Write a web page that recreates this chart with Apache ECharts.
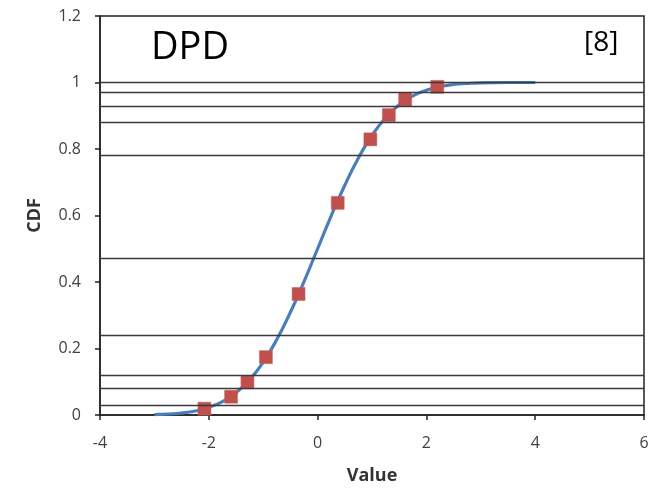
<!DOCTYPE html>
<html><head><meta charset="utf-8">
<script src="https://cdn.jsdelivr.net/npm/echarts@6/dist/echarts.min.js"></script>
<style>html,body{margin:0;padding:0;background:#fff}#c{width:650px;height:489px}</style>
</head><body><div id="c"></div>
<script>
// Fitted CDF curve
const curveX = [-3, -2.75, -2.5, -2.25, -2, -1.75, -1.5, -1.25, -1, -0.75, -0.5, -0.25, 0, 0.25, 0.5, 0.75, 1, 1.25, 1.5, 1.75, 2, 2.25, 2.5, 2.75, 3, 3.5, 4];
const curveY = [0.001, 0.003, 0.006, 0.012, 0.023, 0.04, 0.067, 0.106, 0.159, 0.227, 0.309, 0.401, 0.5, 0.599, 0.691, 0.773, 0.841, 0.894, 0.933, 0.96, 0.977, 0.988, 0.994, 0.997, 0.999, 1.0, 1.0];
// Sample points (red squares)
const pointX = [-2.08, -1.59, -1.29, -0.95, -0.35, 0.37, 0.97, 1.31, 1.61, 2.2];
const pointY = [0.019, 0.055, 0.098, 0.174, 0.364, 0.638, 0.829, 0.902, 0.949, 0.987];
// Horizontal reference levels
const levels = [0.998, 0.968, 0.930, 0.879, 0.780, 0.469, 0.241, 0.119, 0.078, 0.033];
const xTicks = [-4, -2, 0, 2, 4, 6];
const yTicks = [0, 0.2, 0.4, 0.6, 0.8, 1, 1.2];
const titleText = 'DPD';
const refText = '[8]';

const chart = echarts.init(document.getElementById('c'), null, {renderer: 'canvas'});
const font = 'Open Sans';
chart.setOption({
  animation: false,
  backgroundColor: '#fff',
  grid: {left: 100, right: 6, top: 16, bottom: 74, containLabel: false, outerBoundsMode: 'none',
    show: true, borderColor: '#222', borderWidth: 1.5, backgroundColor: 'transparent'},
  graphic: [
    {type: 'text', left: 151, top: 29, style: {text: titleText, font: '38px "Open Sans"', fill: '#000'}},
    {type: 'text', left: 584, top: 29, style: {text: refText, font: '28px "Open Sans"', fill: '#000'}}
  ],
  xAxis: {
    type: 'value', min: xTicks[0], max: xTicks[xTicks.length - 1], interval: 2,
    name: 'Value', nameLocation: 'middle', nameGap: 52,
    nameTextStyle: {fontFamily: font, fontWeight: 'bold', fontSize: 18, color: '#333'},
    axisLine: {show: true, onZero: false, lineStyle: {color: '#222', width: 1.5}},
    axisTick: {show: true, inside: false, length: 5, lineStyle: {color: '#222', width: 1.5}},
    axisLabel: {fontFamily: font, fontSize: 16, color: '#404040', margin: 20},
    splitLine: {show: false}
  },
  yAxis: {
    type: 'value', min: yTicks[0], max: yTicks[yTicks.length - 1], interval: 0.2,
    name: 'CDF', nameLocation: 'middle', nameGap: 56, nameRotate: 90,
    nameTextStyle: {fontFamily: font, fontWeight: 'bold', fontSize: 18, color: '#333'},
    axisLine: {show: true, onZero: false, lineStyle: {color: '#222', width: 1.5}},
    axisTick: {show: true, inside: false, length: 5, lineStyle: {color: '#222', width: 1.5}},
    axisLabel: {fontFamily: font, fontSize: 16, color: '#404040', margin: 19,
      formatter: v => String(Math.round(v * 10) / 10)},
    splitLine: {show: false}
  },
  series: [
    {
      type: 'line', data: [], silent: true,
      markLine: {
        silent: true, symbol: ['none', 'none'], label: {show: false},
        lineStyle: {color: '#3a3a3a', width: 1.4, type: 'solid'},
        data: levels.map(v => ({yAxis: v}))
      }
    },
    {
      type: 'line', smooth: true, showSymbol: false, z: 3,
      lineStyle: {color: '#4a7ebb', width: 3.2},
      data: curveX.map((x, i) => [x, curveY[i]])
    },
    {
      type: 'scatter', symbol: 'rect', symbolSize: 13, z: 4,
      itemStyle: {color: '#c0504d', opacity: 1, borderColor: '#c8625f', borderWidth: 0.5},
      data: pointX.map((x, i) => [x, pointY[i]])
    }
  ]
});
</script>
</body></html>
